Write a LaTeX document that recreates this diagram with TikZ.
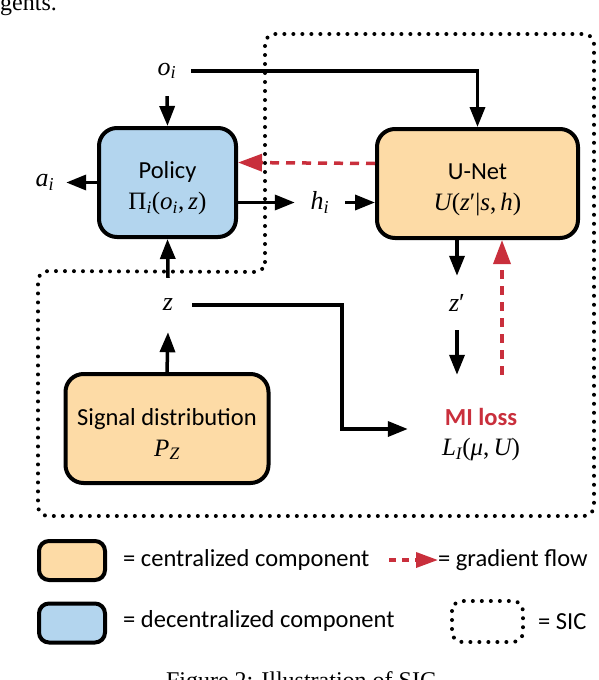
\documentclass[tikz,border=0pt]{standalone}
\usepackage{fontspec}
\setmainfont{Liberation Serif}
\setsansfont{Carlito}
\usetikzlibrary{arrows.meta,calc}
\definecolor{cblue}{HTML}{B3D5EE}
\definecolor{corange}{HTML}{FDDBA6}
\definecolor{cred}{HTML}{C92F3C}
\newcommand{\vi}[1]{{\rmfamily\itshape #1}}
\newcommand{\sbs}[1]{\textsubscript{\itshape #1}}
\newcommand{\mth}{\rmfamily\fontsize{25}{30}\selectfont}
\newcommand{\dn}{\rule{0pt}{28pt}}
\begin{document}
\begin{tikzpicture}[x=1pt,y=-1pt,
 box/.style={draw, line width=4pt, rounded corners=18pt, align=center,
   font=\sffamily\fontsize{24.5}{31}\selectfont, inner sep=0pt},
 lab/.style={font=\rmfamily\fontsize{26}{30}\selectfont, inner sep=0pt},
 sans/.style={font=\sffamily\fontsize{24.5}{28}\selectfont, inner sep=0pt},
 arr/.style={line width=3.5pt, -{Triangle[length=20pt,width=15pt]}},
 grad/.style={line width=3.5pt, cred, dash pattern=on 9pt off 7pt, -{Triangle[length=24pt,width=17pt]}},
 sic/.style={line width=4pt, dash pattern=on 0pt off 9pt, line cap=round, rounded corners=10pt},
 legbox/.style={draw, line width=4pt, rounded corners=10pt, minimum width=66pt, minimum height=39pt, inner sep=0pt}]
\useasboundingbox (0,0) rectangle (598,680);

% cut text from the page
\node[anchor=base west, inner sep=0pt, font=\fontsize{24}{28}\selectfont] (gents) at (0,10) {gents.};
\node[anchor=base, inner sep=0pt, font=\fontsize{24}{28}\selectfont] (caption) at (301,688) {Figure 2: Illustration of SIC};

% SIC region
\draw[sic] (265,272) -- (265,34) -- (594,34) -- (594,516) -- (38,516) -- (38,271) -- cycle;

% boxes
\node[box, fill=cblue, minimum width=137pt, minimum height=109pt] (policy) at (167.5,182.5)
  {\dn Policy\\ {\mth Π\sbs{i}(\vi{o}\sbs{i},\,\vi{z})}};
\node[box, fill=corange, minimum width=201pt, minimum height=109pt] (unet) at (477.5,183.5)
  {\dn U-Net\\ {\mth \vi{U}(\vi{z}′|\vi{s},\,\vi{h})}};
\node[box, fill=corange, minimum width=203pt, minimum height=109pt] (signal) at (167,428.5)
  {\dn Signal distribution\\ {\mth \vi{P}\sbs{Z}}};

% labels
\node[lab, minimum width=48pt, minimum height=50pt] (oi) at (167,71) {\vi{o}\sbs{i}};
\node[lab, minimum width=42pt] (ai) at (45,182.5) {\vi{a}\sbs{i}};
\node[lab, minimum width=50pt] (hi) at (320,202.5) {\vi{h}\sbs{i}};
\node[lab, minimum width=48pt, minimum height=54pt] (z) at (168,305) {\vi{z}};
\node[lab, minimum height=54pt] (zp) at (457,303) {\vi{z}′};
\node[lab, align=center, minimum width=146pt, minimum height=108pt] (mi) at (481,429)
  {\textcolor{cred}{\sffamily\bfseries\fontsize{24.5}{28}\selectfont \dn MI loss}\\[0pt]
   {\mth \vi{L}\sbs{I}(\vi{μ},\,\vi{U})}};

% connectors
\draw[arr] (oi.south) -- (policy.north);
\draw[arr] (oi.east) -| (unet.north);
\draw[arr] (policy.west) -- (ai.east);
\draw[arr] ([yshift=-20pt]policy.east) -- (hi.west);
\draw[arr] (hi.east) -- (hi.east -| unet.west);
\draw[grad] ([yshift=20pt]unet.west) -- ([yshift=20pt]policy.east);
\draw[arr] (zp.north |- unet.south) -- (zp.north);
\draw[arr] (zp.south) -- (zp.south |- mi.north);
\draw[grad] ([xshift=45pt]zp.south |- mi.north) -- ([xshift=45pt]zp.south |- unet.south);
\draw[arr] (signal.north) -- (z.south);
\draw[arr] (z.north) -- (policy.south);
\coordinate (zbend) at (342,0);
\draw[arr] (z.east) -| (zbend |- mi.west) -- (mi.west);

% legend
\node[legbox, fill=corange] (lc) at (72,560.5) {};
\node[legbox, fill=cblue] (ld) at (72,623) {};
\node[sans, anchor=west] (tc) at (123,560) {= centralized component};
\node[sans, anchor=west] (td) at (123,621) {= decentralized component};
\coordinate (ga) at (389,560);
\node[sans, anchor=west] (tg) at (438,560) {= gradient flow};
\draw[grad, dash pattern=on 7pt off 6pt, -{Triangle[length=22pt,width=15pt]}] (ga) -- (tg.west);
\draw[sic] (452,601) rectangle (523,642);
\node[sans, anchor=west] (ts) at (538,622) {= SIC};
\end{tikzpicture}
\end{document}
